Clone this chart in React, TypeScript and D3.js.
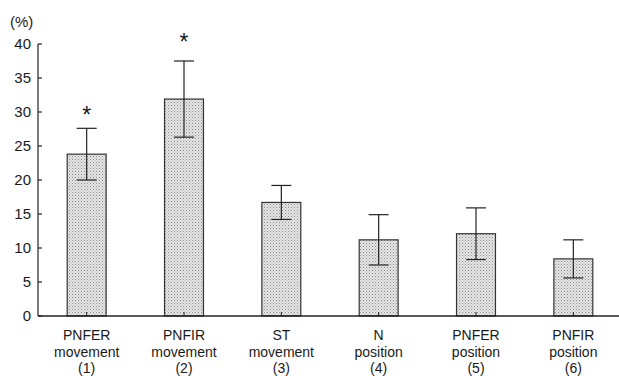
import * as d3 from 'd3'

const categories = ['PNFER movement (1)', 'PNFIR movement (2)', 'ST movement (3)', 'N position (4)', 'PNFER position (5)', 'PNFIR position (6)']
const labelLines = [
  ['PNFER', 'movement', '(1)'],
  ['PNFIR', 'movement', '(2)'],
  ['ST', 'movement', '(3)'],
  ['N', 'position', '(4)'],
  ['PNFER', 'position', '(5)'],
  ['PNFIR', 'position', '(6)'],
]
const means = [23.8, 31.9, 16.7, 11.2, 12.1, 8.4]
const errors = [3.8, 5.6, 2.5, 3.7, 3.8, 2.8]
// significance markers: category index -> y value where the asterisk sits
const starCats = [0, 1]
const starValues = [30.1, 40.9]
const yTicks = [0, 5, 10, 15, 20, 25, 30, 35, 40]

export default function App() {
  const width = 619
  const height = 376
  const margin = { top: 44, right: -3, bottom: 60, left: 38 }
  const font = '"Liberation Sans", Arial, Helvetica, sans-serif'

  const x = d3.scaleBand<string>()
    .domain(categories)
    .range([margin.left, width - margin.right])
    .paddingInner(0.6)
    .paddingOuter(0.3)

  const y = d3.scaleLinear().domain([0, 40]).range([height - margin.bottom, margin.top])

  const bw = x.bandwidth()
  const cx = (i: number) => (x(categories[i]) ?? 0) + bw / 2
  const capW = 20

  return (
    <div style={{ position: 'absolute', left: 0, top: 0 }}>
      <svg width={width} height={height} style={{ display: 'block', background: '#fff' }} fontFamily={font}>
        <defs>
          <pattern id="stip" width="3" height="3" patternUnits="userSpaceOnUse">
            <rect width="3" height="3" fill="#e6e6e6" />
            <rect x="0" y="0" width="1" height="1" fill="#8a8a8a" />
            <rect x="1.5" y="1.5" width="1" height="1" fill="#a8a8a8" />
          </pattern>
        </defs>

        {/* y axis */}
        <line x1={margin.left} x2={margin.left} y1={y(40)} y2={y(0)} stroke="#222" strokeWidth={1.2} />
        {yTicks.map(t => (
          <g key={t}>
            <line x1={margin.left} x2={margin.left + 4} y1={y(t)} y2={y(t)} stroke="#222" strokeWidth={1.2} />
            <text x={margin.left - 7} y={y(t)} dy="0.36em" textAnchor="end" fontSize={15} fill="#1a1a1a">{t}</text>
          </g>
        ))}
        <text x={10} y={27} fontSize={15} fill="#1a1a1a">(%)</text>

        {/* bars */}
        {means.map((m, i) => (
          <rect key={i} x={x(categories[i])} y={y(m)} width={bw} height={y(0) - y(m)}
            fill="url(#stip)" stroke="#333" strokeWidth={1.2} />
        ))}

        {/* error bars */}
        {means.map((m, i) => (
          <g key={i} stroke="#222" strokeWidth={1.2}>
            <line x1={cx(i)} x2={cx(i)} y1={y(m - errors[i])} y2={y(m + errors[i])} />
            <line x1={cx(i) - capW / 2} x2={cx(i) + capW / 2} y1={y(m + errors[i])} y2={y(m + errors[i])} />
            <line x1={cx(i) - capW / 2} x2={cx(i) + capW / 2} y1={y(m - errors[i])} y2={y(m - errors[i])} />
          </g>
        ))}

        {/* x baseline and ticks */}
        <line x1={margin.left} x2={width} y1={y(0)} y2={y(0)} stroke="#222" strokeWidth={1.3} />
        {categories.map((c, i) => (
          <line key={c} x1={cx(i)} x2={cx(i)} y1={y(0)} y2={y(0) - 4} stroke="#222" strokeWidth={1} />
        ))}

        {/* category labels */}
        {labelLines.map((lines, i) => (
          <text key={i} x={cx(i)} textAnchor="middle" fontSize={14} fill="#1a1a1a">
            {lines.map((l, j) => (
              <tspan key={j} x={cx(i)} y={y(0) + 24 + j * 16.5}>{l}</tspan>
            ))}
          </text>
        ))}

        {/* significance asterisks */}
        {starCats.map((ci, k) => (
          <text key={ci} x={cx(ci)} y={y(starValues[k]) + 12} textAnchor="middle" fontSize={23} fill="#1a1a1a">*</text>
        ))}
      </svg>
    </div>
  )
}
